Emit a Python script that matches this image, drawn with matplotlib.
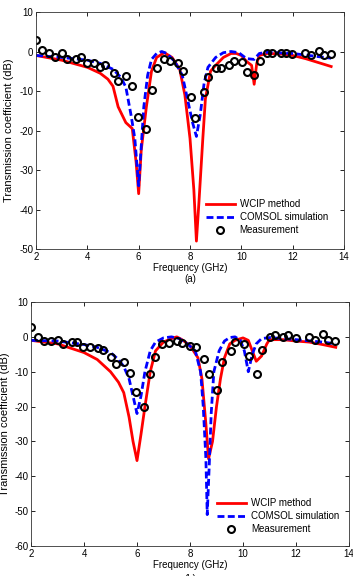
import matplotlib
matplotlib.use('Agg')
import matplotlib.pyplot as plt
import numpy as np

plt.rcParams['font.family'] = ['Liberation Sans', 'DejaVu Sans']
plt.rcParams['font.size'] = 7
plt.rcParams['axes.unicode_minus'] = False

# ---- panel (a) data ----
wcip_a_f = [2.0, 3.0, 4.0, 4.5, 4.8, 5.0, 5.2, 5.5, 5.75, 5.9, 6.0, 6.1, 6.3, 6.5, 6.7, 7.0,
            7.3, 7.6, 7.8, 8.0, 8.15, 8.25, 8.35, 8.5, 8.6, 8.8, 9.0, 9.3, 9.6, 9.8, 10.0,
            10.2, 10.4, 10.5, 10.6, 10.7, 11.0, 11.5, 12.0, 12.5, 13.0, 13.5]
wcip_a = [-1.0, -2.2, -4.0, -5.5, -7.0, -8.8, -14.0, -18.0, -19.5, -28.0, -36.0, -25.0, -14.0,
          -5.0, -1.5, -0.3, -1.5, -4.5, -11.0, -22.0, -35.0, -48.0, -38.0, -22.0, -12.0, -5.0,
          -3.5, -1.5, -0.5, -0.5, -1.0, -2.5, -3.5, -8.3, -3.0, -1.0, -0.5, -0.6, -1.0, -1.8,
          -2.8, -3.8]

comsol_a_f = [2.0, 3.0, 4.0, 4.5, 5.0, 5.3, 5.5, 5.7, 5.85, 5.95, 6.0, 6.1, 6.2, 6.35, 6.5,
              6.7, 6.9, 7.1, 7.4, 7.7, 7.9, 8.1, 8.25, 8.4, 8.55, 8.7, 9.0, 9.3, 9.6, 9.9, 10.0,
              10.2, 10.5, 10.7, 11.0, 12.0, 13.0, 13.5]
comsol_a = [-1.0, -1.5, -2.2, -3.0, -4.5, -6.5, -9.0, -16.0, -22.0, -30.0, -34.0, -24.0, -14.0,
            -6.0, -2.0, -0.5, 0.0, -0.5, -2.5, -6.0, -12.0, -18.0, -21.5, -16.0, -8.0, -4.0,
            -1.5, -0.3, 0.0, -0.3, -0.8, -1.8, -2.0, -0.5, -0.2, -0.5, -1.3, -1.7]

meas_a_f = [2.0, 2.23, 2.51, 2.75, 3.02, 3.19, 3.54, 3.74, 3.98, 4.25, 4.49, 4.68, 5.05, 5.19,
            5.51, 5.73, 5.99, 6.27, 6.53, 6.70, 6.98, 7.22, 7.54, 7.74, 8.02, 8.21, 8.54, 8.72,
            9.03, 9.22, 9.52, 9.72, 10.04, 10.21, 10.51, 10.71, 11.01, 11.21, 11.56, 11.73,
            11.99, 12.49, 12.73, 13.02, 13.21, 13.48]
meas_a = [2.9, 0.4, -0.3, -1.5, -0.5, -2.0, -2.0, -1.5, -2.8, -2.9, -3.8, -3.4, -5.4, -7.4,
          -6.2, -8.7, -16.7, -19.5, -9.7, -4.3, -2.0, -2.5, -2.8, -5.0, -11.4, -16.9, -10.2,
          -6.4, -4.3, -4.2, -3.3, -2.4, -2.7, -5.3, -5.9, -2.5, -0.3, -0.3, -0.3, -0.3, -0.6,
          -0.5, -1.0, 0.1, -0.9, -0.7]

# ---- panel (b) data ----
wcip_b_f = [2.0, 3.0, 4.0, 4.5, 5.0, 5.3, 5.5, 5.7, 5.85, 6.0, 6.15, 6.3, 6.5, 6.7, 7.0, 7.3,
            7.5, 7.7, 8.0, 8.3, 8.45, 8.6, 8.7, 8.85, 9.0, 9.15, 9.3, 9.5, 9.7, 10.0, 10.2,
            10.35, 10.5, 10.7, 10.9, 11.0, 11.5, 12.0, 12.5, 13.0, 13.5]
wcip_b = [-1.0, -2.0, -4.5, -6.5, -10.0, -13.0, -16.0, -23.0, -30.0, -35.5, -28.0, -20.0,
          -10.0, -4.0, -1.5, -0.5, 0.0, -0.8, -2.5, -6.0, -12.0, -25.0, -35.0, -30.0, -20.0,
          -12.0, -6.0, -2.0, -1.0, -0.3, -1.0, -4.0, -7.0, -5.5, -2.0, -0.8, -0.8, -1.2, -1.5,
          -2.2, -3.0]

comsol_b_f = [2.0, 3.0, 4.0, 4.5, 5.0, 5.3, 5.5, 5.7, 5.85, 6.0, 6.15, 6.3, 6.5, 6.7, 7.0,
              7.3, 7.6, 7.9, 8.2, 8.4, 8.5, 8.6, 8.65, 8.72, 8.8, 8.9, 9.1, 9.3, 9.5, 9.7, 9.9,
              10.05, 10.2, 10.35, 10.5, 10.7, 11.0, 12.0, 13.0, 13.5]
comsol_b = [-1.0, -1.2, -2.2, -3.0, -4.5, -6.5, -8.5, -12.0, -17.0, -22.0, -17.0, -10.0, -4.0,
            -1.5, -0.3, 0.0, -0.5, -2.0, -4.0, -10.0, -20.0, -35.0, -51.0, -38.0, -22.0, -10.0,
            -4.0, -1.2, -0.2, 0.0, -1.0, -4.0, -10.0, -5.0, -2.0, -0.5, -0.2, -0.8, -1.5, -2.0]

meas_b_f = [2.0, 2.25, 2.50, 2.74, 3.0, 3.19, 3.53, 3.72, 3.97, 4.22, 4.51, 4.70, 5.01, 5.19,
            5.50, 5.72, 5.98, 6.25, 6.50, 6.68, 6.96, 7.19, 7.51, 7.71, 8.01, 8.24, 8.52, 8.70,
            9.01, 9.21, 9.53, 9.70, 10.03, 10.22, 10.51, 10.71, 11.03, 11.20, 11.52, 11.70,
            12.0, 12.5, 12.73, 13.0, 13.19, 13.48]
meas_b = [2.7, 0.1, -1.1, -1.1, -1.0, -2.0, -1.5, -1.5, -2.9, -2.8, -3.2, -3.7, -5.8, -7.7,
          -7.2, -10.4, -15.7, -20.2, -10.7, -5.9, -2.1, -1.8, -1.3, -1.8, -2.5, -3.0, -6.3,
          -10.7, -15.2, -7.1, -4.2, -1.5, -2.1, -5.4, -10.7, -3.9, 0.1, 0.4, -0.1, 0.4, -0.3,
          0.1, -0.8, 0.8, -0.8, -1.1]

W, H = 353, 576
fig = plt.figure(figsize=(W / 100, H / 100), dpi=100)


def make_panel(rect, wf, wv, cf, cv, mf, mv, ylim, yticks, ylab_px, leg_anchor):
    ax = fig.add_axes(rect)
    ax.plot(wf, wv, color='#ff0000', lw=2.0, label='WCIP method')
    ax.plot(cf, cv, color='#0000ff', lw=2.0, ls=(0, (2.5, 1.2)), label='COMSOL simulation')
    ax.plot(mf, mv, ls='none', marker='o', ms=5, mfc='none', mec='black', mew=1.5,
            label='Measurement')
    ax.set_xlim(2, 14)
    ax.set_ylim(*ylim)
    ax.set_xticks(np.arange(2, 15, 2))
    ax.set_yticks(yticks)
    ax.tick_params(direction='in', length=3, width=0.6, top=True, right=True, pad=2,
                   labelsize=7)
    for s in ax.spines.values():
        s.set_linewidth(0.6)
        s.set_color('#333333')
    ax.set_xlabel('Frequency (GHz)', fontsize=7, labelpad=1)
    ax.set_ylabel('Transmission coefficient (dB)', fontsize=8)
    # place the y label by figure pixel
    ax.yaxis.set_label_coords(ylab_px / W, rect[1] + rect[3] / 2, transform=fig.transFigure)
    ax.yaxis.label.set_va('center')
    ax.legend(loc='lower right', bbox_to_anchor=leg_anchor, frameon=False, fontsize=7,
              handlelength=3.0, handletextpad=0.5, labelspacing=0.3, borderpad=0.2,
              numpoints=1)
    return ax


# panel (a): x 36..344 px, y 12..249 px
make_panel([36 / W, 1 - 249 / H, 308 / W, 237 / H], wcip_a_f, wcip_a, comsol_a_f, comsol_a,
           meas_a_f, meas_a, (-50, 10), np.arange(-50, 11, 10), 9, (0.97, 0.03))
fig.text(0.5 * (36 + 344) / W, 1 - 279 / H, '(a)', ha='center', va='center', fontsize=7)

# panel (b): x 31..349 px, y 302..546 px
make_panel([31 / W, 1 - 546 / H, 318 / W, 244 / H], wcip_b_f, wcip_b, comsol_b_f, comsol_b,
           meas_b_f, meas_b, (-60, 10), np.arange(-60, 11, 10), 5.5, (0.99, 0.02))
fig.text(0.5 * (31 + 349) / W, 1 - 579 / H, '(b)', ha='center', va='center', fontsize=7)

fig.savefig('out.png', dpi=100)
